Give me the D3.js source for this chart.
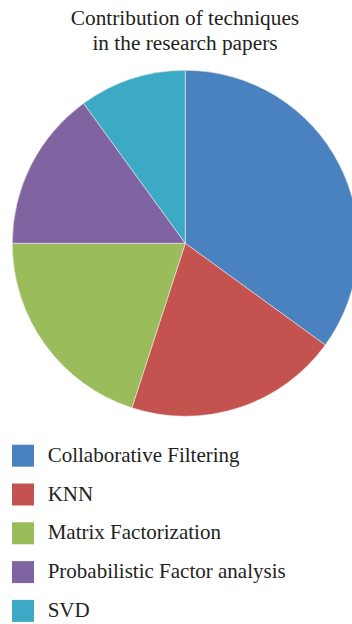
<!DOCTYPE html>
<html>
<head>
<meta charset="utf-8">
<script src="https://cdn.jsdelivr.net/npm/d3@7"></script>
<style>
  html, body { margin: 0; padding: 0; background: #fff; }
  svg { display: block; }
</style>
</head>
<body>
<svg id="chart" width="352" height="624"></svg>
<script>
const categories = ["Collaborative Filtering", "KNN", "Matrix Factorization", "Probabilistic Factor analysis", "SVD"];
const values = [35, 20, 20, 15, 10];
const colors = ["#4a81bf", "#c4534f", "#9bbc5a", "#8064a2", "#3ca9c5"];
const titleLines = ["Contribution of techniques", "in the research papers"];

const svg = d3.select("#chart");
const font = "'Liberation Serif', 'Times New Roman', serif";

// Title
svg.append("text")
  .attr("x", 185).attr("y", 24.5)
  .attr("text-anchor", "middle")
  .attr("font-family", font).attr("font-size", 21.3).attr("fill", "#231f20")
  .selectAll("tspan").data(titleLines).join("tspan")
  .attr("x", 185).attr("dy", (d, i) => i === 0 ? 0 : 25.5)
  .text(d => d);

// Pie
const cx = 185.3, cy = 243.3, r = 173;
const pie = d3.pie().sort(null).value(d => d.value);
const arc = d3.arc().innerRadius(0).outerRadius(r);
const data = categories.map((c, i) => ({ name: c, value: values[i], color: colors[i] }));

svg.append("g")
  .attr("transform", `translate(${cx},${cy})`)
  .selectAll("path").data(pie(data)).join("path")
  .attr("d", arc)
  .attr("fill", d => d.data.color)
  .attr("stroke", "#e8e8e8").attr("stroke-width", 0.6);

// Legend
const legend = svg.append("g").attr("transform", "translate(12,444.7)");
const rows = legend.selectAll("g").data(data).join("g")
  .attr("transform", (d, i) => `translate(0,${i * 38.8})`);
rows.append("rect")
  .attr("width", 22).attr("height", 22)
  .attr("fill", d => d.color);
rows.append("text")
  .attr("x", 35.7).attr("y", 17)
  .attr("font-family", font).attr("font-size", 21).attr("fill", "#231f20")
  .text(d => d.name);
</script>
</body>
</html>
